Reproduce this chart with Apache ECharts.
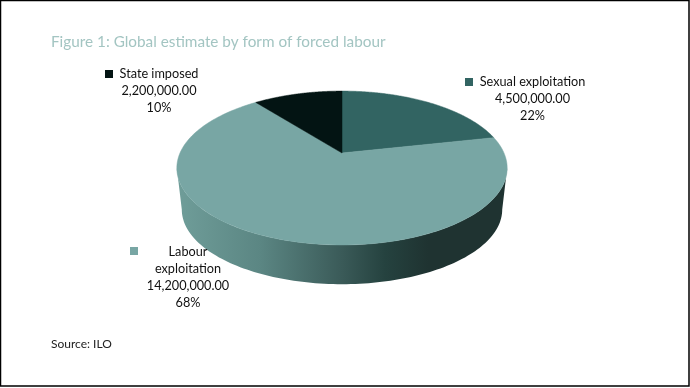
<!DOCTYPE html>
<html>
<head>
<meta charset="utf-8">
<style>html,body{margin:0;padding:0;background:#fff}#c{width:690px;height:388px}</style>
<script src="https://cdn.jsdelivr.net/npm/echarts@6/dist/echarts.min.js"></script>
</head>
<body>
<div id="c"></div>
<script>
// Data, in drawing order (clockwise from the back of the pie)
const categories = ['Sexual exploitation', 'Labour\nexploitation', 'State imposed'];
const values = [4500000, 14200000, 2200000];
const valueLabels = ['4,500,000.00', '14,200,000.00', '2,200,000.00'];
const percentLabels = ['22%', '68%', '10%'];
const sliceColors = ['#326462', '#78a6a4', '#031413'];
const titleText = 'Figure 1: Global estimate by form of forced labour';
const sourceText = 'Source: ILO';

// Perspective projection of the pie disc
const pie = {cx: 342, cy: 153, A: 162, B: 74, k: 0.195, drop: 42, shrink: 0.97};
const total = values.reduce((a, b) => a + b, 0);
function topEdge(t) {
  const w = 1 + pie.k * Math.cos(t);
  return [pie.cx + pie.A * Math.sin(t) / w, pie.cy - pie.B * Math.cos(t) / w];
}
function bottomEdge(t) {
  const w = 1 + pie.k * Math.cos(t);
  return [pie.cx + pie.shrink * pie.A * Math.sin(t) / w,
          pie.cy + pie.drop - pie.shrink * pie.B * Math.cos(t) / w];
}
function arc(fn, a, b, n) {
  const pts = [];
  for (let i = 0; i <= n; i++) pts.push(fn(a + (b - a) * i / n));
  return pts;
}
// Label placement: text centre x, first line y, marker x, marker y
const labelLayout = [
  {x: 532.5, y: 74, mx: 465, my: 78},
  {x: 188, y: 244, mx: 130, my: 247},
  {x: 159, y: 66, mx: 105, my: 70}
];
const labelFont = '12.7px Lato, "Open Sans", sans-serif';

function renderItem(params, api) {
  const i = params.dataIndex;
  let before = 0;
  for (let j = 0; j < i; j++) before += values[j];
  const a0 = before / total * 2 * Math.PI;
  const a1 = (before + api.value(0)) / total * 2 * Math.PI;
  const children = [];
  // The visible front wall starts where the top edge is widest
  const edge = Math.acos(-pie.k);
  const wa = Math.max(a0, edge), wb = Math.min(a1, 2 * Math.PI - edge);
  if (wb > wa) {
    const pts = arc(topEdge, wa, wb, 120).concat(arc(bottomEdge, wb, wa, 120));
    children.push({
      type: 'polygon',
      shape: {points: pts},
      style: {
        fill: new echarts.graphic.LinearGradient(178, 0, 507, 0, [
          {offset: 0, color: '#6f9d99'},
          {offset: 0.25, color: '#5b8683'},
          {offset: 0.5, color: '#3a5a58'},
          {offset: 0.63, color: '#25423f'},
          {offset: 0.76, color: '#1f3331'},
          {offset: 1, color: '#1f3331'}
        ], true)
      }
    });
  }
  children.push({
    type: 'polygon',
    shape: {points: [[pie.cx, pie.cy]].concat(arc(topEdge, a0, a1, 160))},
    style: {fill: sliceColors[i], stroke: sliceColors[i], lineWidth: 0.5}
  });
  const L = labelLayout[i];
  children.push({
    type: 'rect',
    shape: {x: L.mx, y: L.my, width: 8, height: 8},
    style: {fill: sliceColors[i]}
  });
  children.push({
    type: 'text',
    style: {
      text: [categories[i], valueLabels[i], percentLabels[i]].join('\n'),
      x: L.x, y: L.y, align: 'center', verticalAlign: 'top',
      font: labelFont, lineHeight: 16.7, fill: '#111'
    }
  });
  return {type: 'group', children};
}

const chart = echarts.init(document.getElementById('c'), null, {renderer: 'canvas'});
chart.setOption({
  animation: false,
  backgroundColor: '#fff',
  title: [
    {text: titleText, left: 46, top: 30,
     textStyle: {fontFamily: 'Lato', fontWeight: 'normal', fontSize: 15.3, color: '#a3c5c2'}},
    {text: sourceText, left: 46, top: 333,
     textStyle: {fontFamily: 'Lato', fontWeight: 'normal', fontSize: 12, color: '#222'}}
  ],
  graphic: [{
    type: 'rect', silent: true, z: 10,
    shape: {x: 0.5, y: 0.5, width: 688.5, height: 385.5},
    style: {fill: 'none', stroke: '#000', lineWidth: 1.5}
  }],
  series: [{
    type: 'custom',
    coordinateSystem: 'none',
    renderItem,
    data: values.map(v => [v])
  }]
});
</script>
</body>
</html>
